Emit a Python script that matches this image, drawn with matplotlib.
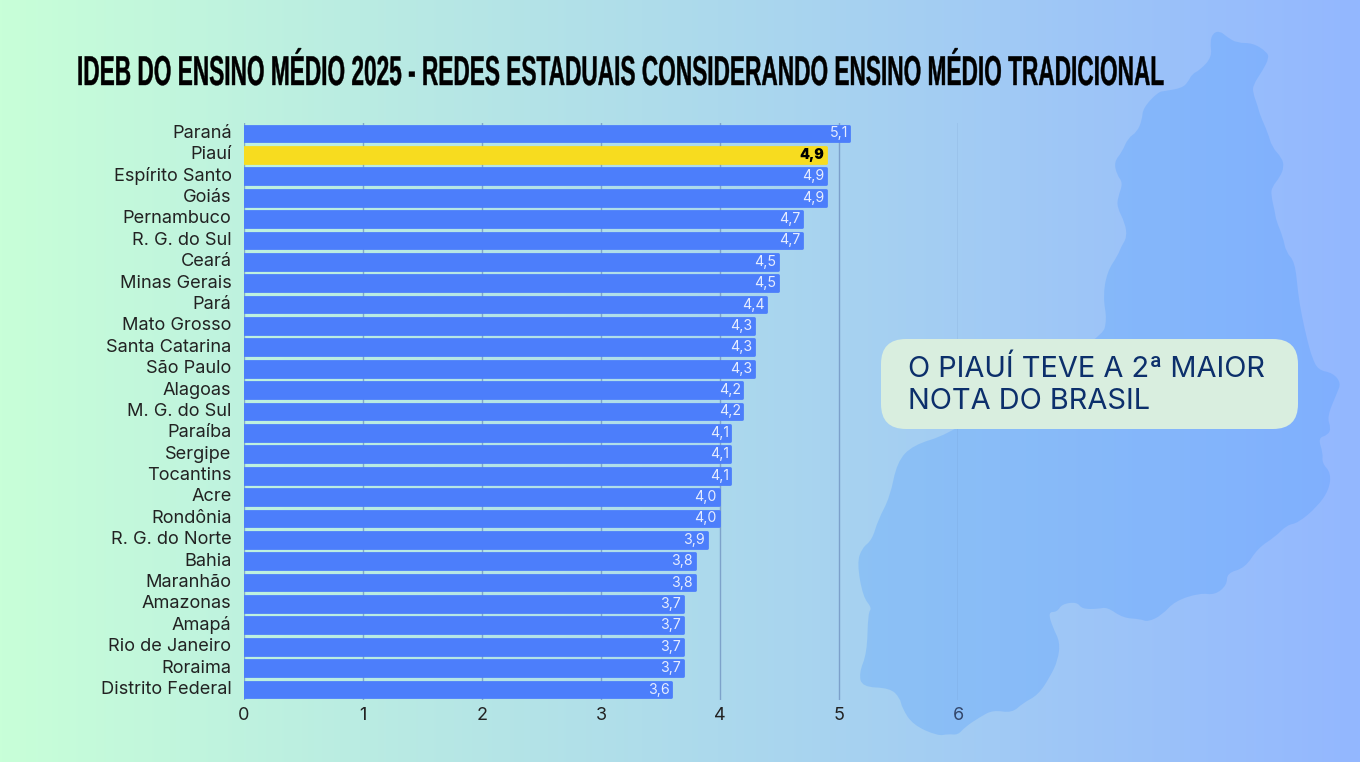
import numpy as np
import matplotlib
matplotlib.use('Agg')
from matplotlib import pyplot as plt
from matplotlib.patches import FancyBboxPatch, PathPatch
from matplotlib.path import Path
from matplotlib.patheffects import AbstractPathEffect
from matplotlib.transforms import Affine2D, ScaledTranslation

estados = ['Paraná', 'Piauí', 'Espírito Santo', 'Goiás', 'Pernambuco', 'R. G. do Sul', 'Ceará',
           'Minas Gerais', 'Pará', 'Mato Grosso', 'Santa Catarina', 'São Paulo', 'Alagoas',
           'M. G. do Sul', 'Paraíba', 'Sergipe', 'Tocantins', 'Acre', 'Rondônia', 'R. G. do Norte',
           'Bahia', 'Maranhão', 'Amazonas', 'Amapá', 'Rio de Janeiro', 'Roraima', 'Distrito Federal']
notas = [5.1, 4.9, 4.9, 4.9, 4.7, 4.7, 4.5, 4.5, 4.4, 4.3, 4.3, 4.3, 4.2, 4.2, 4.1, 4.1, 4.1,
         4.0, 4.0, 3.9, 3.8, 3.8, 3.7, 3.7, 3.7, 3.7, 3.6]
destaque = 'Piauí'
titulo = 'IDEB DO ENSINO MÉDIO 2025 - REDES ESTADUAIS CONSIDERANDO ENSINO MÉDIO TRADICIONAL'
chamada = 'O PIAUÍ TEVE A 2ª MAIOR\nNOTA DO BRASIL'

# contorno do Piauí, decoracao de fundo, em pixels da imagem
mapa = [(1213, 33), (1220, 31), (1227, 37), (1237, 43), (1253, 43), (1267, 52), (1269, 58), (1263, 70),
        (1253, 85), (1253, 93), (1258, 107), (1260, 115), (1268, 133), (1272, 147), (1282, 158), (1284, 167),
        (1280, 177), (1272, 187), (1271, 195), (1275, 212), (1276, 220), (1283, 237), (1286, 252), (1295, 262),
        (1298, 293), (1302, 317), (1308, 343), (1312, 357), (1318, 370), (1333, 373), (1341, 383), (1337, 393),
        (1327, 417), (1331, 428), (1328, 435), (1318, 438), (1323, 453), (1322, 463), (1331, 473), (1329, 490),
        (1317, 507), (1298, 523), (1287, 525), (1275, 537), (1258, 548), (1245, 568), (1227, 573), (1227, 585),
        (1215, 595), (1200, 593), (1175, 601), (1162, 615), (1148, 622), (1140, 619), (1123, 618), (1107, 607),
        (1098, 609), (1082, 609), (1077, 602), (1062, 604), (1057, 612), (1048, 612), (1053, 628), (1060, 642),
        (1058, 660), (1050, 677), (1038, 695), (1023, 703), (1012, 713), (993, 710), (980, 717), (965, 727),
        (958, 735), (948, 734), (938, 736), (913, 725), (902, 708), (900, 698), (890, 688), (862, 687),
        (859, 673), (867, 653), (868, 613), (872, 608), (863, 597), (857, 563), (862, 548), (872, 540),
        (878, 520), (890, 497), (897, 462), (913, 445), (947, 435), (1000, 400), (1102, 337), (1107, 320),
        (1103, 297), (1107, 272), (1118, 255), (1121, 247), (1127, 237), (1125, 223), (1117, 207), (1118, 197),
        (1123, 183), (1117, 175), (1114, 162), (1122, 152), (1128, 138), (1137, 132), (1142, 120), (1143, 108),
        (1158, 92), (1165, 91), (1182, 88), (1188, 82), (1192, 74), (1200, 70), (1212, 57), (1210, 42)]


class Estreita(AbstractPathEffect):
    # deforma o texto (aperta e estica a partir da linha de base) para imitar a fonte condensada do titulo
    def __init__(self, x0, y0, kx, ky, grossura):
        super().__init__()
        self.x0, self.y0, self.kx, self.ky, self.grossura = x0, y0, kx, ky, grossura

    def draw_path(self, renderer, gc, tpath, affine, rgbFace=None):
        novo = affine + Affine2D().translate(-self.x0, -self.y0).scale(self.kx, self.ky).translate(self.x0, self.y0)
        gc0 = renderer.new_gc()
        gc0.copy_properties(gc)
        gc0.set_linewidth(self.grossura)
        gc0.set_foreground('black')
        renderer.draw_path(gc0, tpath, novo, rgbFace)
        gc0.restore()


W, H = 1360, 762
fig = plt.figure(figsize=(13.6, 7.62), dpi=100)

# fundo em degrade e mapa
fundo = fig.add_axes([0, 0, 1, 1], zorder=0)
fundo.set_xlim(0, W)
fundo.set_ylim(H, 0)
fundo.axis('off')
c1 = np.array(matplotlib.colors.to_rgb('#c8ffd8'))
c2 = np.array(matplotlib.colors.to_rgb('#93b7ff'))
t = np.linspace(0, 1, 680)[None, :, None]
fundo.imshow(c1 + (c2 - c1) * t, extent=[0, W, H, 0], aspect='auto')

verts = [((mapa[-1][0] + mapa[0][0]) / 2, (mapa[-1][1] + mapa[0][1]) / 2)]
codes = [Path.MOVETO]
for i, p in enumerate(mapa):
    q = mapa[(i + 1) % len(mapa)]
    verts += [p, ((p[0] + q[0]) / 2, (p[1] + q[1]) / 2)]
    codes += [Path.CURVE3, Path.CURVE3]
fundo.add_patch(PathPatch(Path(verts, codes), fc='#529dff', ec='none', alpha=0.3))

# barras
ax = fig.add_axes([244 / W, 1 - 700.2 / H, (958 - 244) / W, (700.2 - 122.8) / H], zorder=1)
ax.patch.set_alpha(0)
y = np.arange(len(estados))
cores = ['#f7dc1f' if e == destaque else '#4c7efb' for e in estados]
alturas = [0.78 if e == destaque else 0.735 for e in estados]
# left negativo compensa a borda arredondada, a parte de fora fica cortada pelo eixo
barras = ax.barh(y, notas, left=-0.012, height=alturas, color=cores, edgecolor=cores, linewidth=2, zorder=3)
for b in barras:
    b.set_joinstyle('round')
ax.set_xlim(0, 6)
ax.set_ylim(len(estados) - 0.5, -0.5)
ax.set_yticks(y, estados, fontsize=13.1, color='#222222', family='Inter')
ax.set_xticks(range(7))
ax.set_xticklabels(range(7), fontsize=13, color='#222222', family='Inter')
ax.get_xticklabels()[6].set_color('#33476b')
ax.tick_params(length=0)
ax.tick_params(axis='y', pad=9)
ax.tick_params(axis='x', pad=5)
sobe = ScaledTranslation(0, 1.5 / 72, fig.dpi_scale_trans)
for lbl in ax.get_yticklabels():
    lbl.set_transform(lbl.get_transform() + sobe)
ax.grid(axis='x', color='#6a8cbc', alpha=0.7, lw=1, zorder=1)
for s in ax.spines.values():
    s.set_visible(False)

for e, n, yy in zip(estados, notas, y):
    forte = e == destaque
    ax.annotate(f'{n:.1f}'.replace('.', ','), (n, yy), xytext=(-2.2, 0), textcoords='offset points',
                ha='right', va='center', fontsize=10.2, family='Inter', zorder=4,
                color='black' if forte else '#e6edff', fontweight='black' if forte else 'normal')

# titulo e chamada
topo = fig.add_axes([0, 0, 1, 1], zorder=2)
topo.set_xlim(0, W)
topo.set_ylim(H, 0)
topo.axis('off')
tt = topo.text(77, 85, titulo, fontsize=30, family=['Liberation Sans Narrow', 'Liberation Sans'],
               fontweight='bold', color='black', ha='left', va='baseline')
fig.canvas.draw()
fs = 30 * 1240 / tt.get_window_extent().width
tt.set_fontsize(fs)
kx = 1085 / 1240
ky = 30 / (fs * 100 / 72 * 0.72)
tt.set_path_effects([Estreita(77, H - 85, kx, ky, 0.3)])

topo.add_patch(FancyBboxPatch((881 + 25, 339 + 25), 417 - 50, 90 - 50, boxstyle='round,pad=25,rounding_size=25',
                              fc='#d9eedf', ec='none'))
topo.text(908, 385.5, chamada, fontsize=20.9, family='Inter', color='#0c2f6b', ha='left', va='center',
          linespacing=1.25)

fig.savefig('out.png', dpi=100)
